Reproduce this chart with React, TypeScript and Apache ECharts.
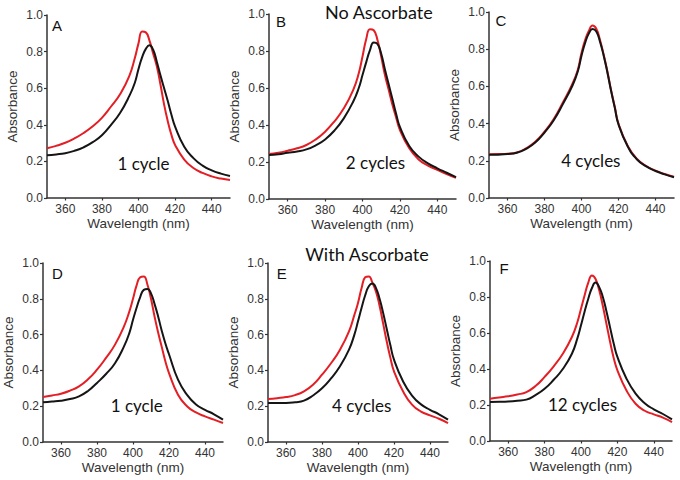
import React, { useEffect, useRef } from "react";
import * as echarts from "echarts";

const wavelengths = [350, 355, 360, 365, 370, 375, 380, 385, 390, 395, 398, 400, 402, 404, 406, 408, 410, 412, 414, 416, 418, 420, 425, 430, 435, 440, 445, 450];

const aRed = [0.272, 0.285, 0.302, 0.326, 0.355, 0.392, 0.438, 0.5, 0.568, 0.668, 0.765, 0.845, 0.91, 0.905, 0.86, 0.79, 0.72, 0.62, 0.51, 0.42, 0.345, 0.29, 0.21, 0.164, 0.137, 0.118, 0.106, 0.098];
const aBlack = [0.233, 0.238, 0.245, 0.258, 0.277, 0.305, 0.343, 0.4, 0.466, 0.558, 0.63, 0.705, 0.77, 0.815, 0.835, 0.81, 0.745, 0.67, 0.6, 0.53, 0.455, 0.39, 0.28, 0.218, 0.177, 0.151, 0.133, 0.12];
const bRed = [0.243, 0.25, 0.261, 0.274, 0.292, 0.322, 0.364, 0.42, 0.49, 0.589, 0.68, 0.77, 0.865, 0.918, 0.912, 0.86, 0.77, 0.67, 0.59, 0.51, 0.44, 0.373, 0.274, 0.214, 0.18, 0.157, 0.135, 0.115];
const bBlack = [0.238, 0.242, 0.25, 0.257, 0.268, 0.29, 0.322, 0.37, 0.436, 0.526, 0.6, 0.67, 0.74, 0.805, 0.846, 0.838, 0.785, 0.7, 0.62, 0.54, 0.46, 0.39, 0.286, 0.229, 0.193, 0.166, 0.142, 0.118];
const cRed = [0.235, 0.236, 0.238, 0.245, 0.267, 0.302, 0.357, 0.425, 0.515, 0.612, 0.69, 0.78, 0.85, 0.9, 0.927, 0.91, 0.85, 0.77, 0.68, 0.58, 0.49, 0.4, 0.28, 0.21, 0.172, 0.147, 0.129, 0.114];
const cBlack = [0.232, 0.233, 0.236, 0.243, 0.264, 0.298, 0.352, 0.418, 0.506, 0.602, 0.68, 0.765, 0.835, 0.885, 0.908, 0.895, 0.84, 0.765, 0.675, 0.575, 0.485, 0.395, 0.277, 0.207, 0.17, 0.145, 0.127, 0.112];
const dRed = [0.251, 0.26, 0.27, 0.287, 0.311, 0.35, 0.404, 0.47, 0.544, 0.646, 0.73, 0.8, 0.875, 0.92, 0.925, 0.88, 0.8, 0.7, 0.61, 0.53, 0.45, 0.385, 0.264, 0.2, 0.165, 0.143, 0.125, 0.106];
const dBlack = [0.222, 0.226, 0.231, 0.24, 0.255, 0.285, 0.33, 0.38, 0.44, 0.534, 0.61, 0.683, 0.75, 0.81, 0.85, 0.855, 0.83, 0.77, 0.7, 0.62, 0.55, 0.49, 0.348, 0.264, 0.21, 0.18, 0.155, 0.125];
const eRed = [0.24, 0.245, 0.251, 0.262, 0.283, 0.32, 0.376, 0.44, 0.516, 0.618, 0.71, 0.777, 0.86, 0.92, 0.925, 0.89, 0.84, 0.76, 0.66, 0.56, 0.47, 0.395, 0.283, 0.209, 0.17, 0.149, 0.13, 0.106];
const eBlack = [0.218, 0.218, 0.218, 0.222, 0.231, 0.26, 0.3, 0.355, 0.423, 0.516, 0.6, 0.674, 0.75, 0.82, 0.87, 0.885, 0.86, 0.8, 0.72, 0.63, 0.54, 0.46, 0.339, 0.259, 0.21, 0.18, 0.155, 0.125];
const fRed = [0.235, 0.242, 0.248, 0.258, 0.272, 0.305, 0.356, 0.415, 0.485, 0.578, 0.66, 0.735, 0.81, 0.88, 0.92, 0.9, 0.837, 0.75, 0.65, 0.55, 0.46, 0.393, 0.28, 0.207, 0.168, 0.148, 0.13, 0.105];
const fBlack = [0.217, 0.218, 0.22, 0.224, 0.23, 0.255, 0.29, 0.34, 0.4, 0.485, 0.57, 0.643, 0.72, 0.79, 0.85, 0.88, 0.855, 0.8, 0.72, 0.63, 0.54, 0.467, 0.346, 0.263, 0.21, 0.176, 0.15, 0.12];

const panelLetters = ["A", "B", "C", "D", "E", "F"];
const cycleLabels = ["1 cycle", "2 cycles", "4 cycles", "1 cycle", "4 cycles", "12 cycles"];
const groupTitles = ["No Ascorbate", "With Ascorbate"];
const xTickValues = [360, 380, 400, 420, 440];

const redSeries = [aRed, bRed, cRed, dRed, eRed, fRed];
const blackSeries = [aBlack, bBlack, cBlack, dBlack, eBlack, fBlack];

// layout (pixels)
const grids = [
  { left: 47, top: 15, width: 183, height: 183 },
  { left: 269, top: 14, width: 187, height: 185 },
  { left: 489, top: 12, width: 185, height: 186 },
  { left: 43, top: 263, width: 180, height: 179 },
  { left: 268, top: 263, width: 180, height: 179 },
  { left: 490, top: 261, width: 182, height: 180 },
];
const letterPos = [[57, 25], [281, 21], [501, 20.5], [57.5, 273], [281.7, 273], [504, 268]];
const cyclePos = [[143.5, 163.5], [375.5, 162.5], [590.8, 160.8], [136.7, 405.8], [361.7, 405.8], [582.5, 404.5]];
const titlePos = [[378.8, 11.5], [367, 254]];

const RED = "#e31e24";
const BLACK = "#151515";
const AXIS = "#333333";
const SANS = "'Liberation Sans', Arial, sans-serif";
const HUMAN = "Lato, 'Open Sans', sans-serif";

export default function App() {
  const ref = useRef<HTMLDivElement>(null);
  useEffect(() => {
    if (!ref.current) return;
    const chart = echarts.init(ref.current, null, { renderer: "svg" });
    const xAxis = grids.map((_, i) => ({
      type: "value",
      gridIndex: i,
      min: 350,
      max: 450,
      interval: 10,
      name: "Wavelength (nm)",
      nameLocation: "middle",
      nameGap: 18,
      nameTextStyle: { fontFamily: SANS, fontSize: 13.5, color: AXIS },
      axisLine: { show: true, lineStyle: { color: AXIS, width: 1.5 } },
      axisTick: { show: true, length: 2.5, customValues: xTickValues, lineStyle: { color: AXIS, width: 1.2 } },
      splitLine: { show: false },
      axisLabel: {
        fontFamily: SANS,
        fontSize: 12,
        color: AXIS,
        margin: 5,
        customValues: xTickValues,
        formatter: (v: number) => String(v),
      },
    }));
    const yAxis = grids.map((_, i) => ({
      type: "value",
      gridIndex: i,
      min: 0,
      max: 1,
      interval: 0.2,
      name: "Absorbance",
      nameLocation: "middle",
      nameGap: 28,
      nameTextStyle: { fontFamily: SANS, fontSize: 13.5, color: AXIS },
      axisLine: { show: true, lineStyle: { color: AXIS, width: 1.5 } },
      axisTick: { show: true, length: 3, lineStyle: { color: AXIS, width: 1.2 } },
      splitLine: { show: false },
      axisLabel: {
        fontFamily: SANS,
        fontSize: 12,
        color: AXIS,
        margin: 4,
        formatter: (v: number) => v.toFixed(1),
      },
    }));
    const series: any[] = [];
    grids.forEach((_, i) => {
      series.push({
        type: "line",
        xAxisIndex: i,
        yAxisIndex: i,
        data: wavelengths.map((w, k) => [w, redSeries[i][k]]),
        showSymbol: false,
        smooth: 0.5,
        lineStyle: { color: RED, width: 2 },
      });
      series.push({
        type: "line",
        xAxisIndex: i,
        yAxisIndex: i,
        data: wavelengths.map((w, k) => [w, blackSeries[i][k]]),
        showSymbol: false,
        smooth: 0.5,
        lineStyle: { color: BLACK, width: 2 },
      });
    });
    const graphic: any[] = [];
    panelLetters.forEach((t, i) => {
      graphic.push({
        type: "text",
        x: letterPos[i][0],
        y: letterPos[i][1],
        style: { text: t, fontFamily: SANS, fontSize: 15, fill: "#111", align: "center", verticalAlign: "middle" },
      });
      graphic.push({
        type: "text",
        x: cyclePos[i][0],
        y: cyclePos[i][1],
        style: { text: cycleLabels[i], fontFamily: HUMAN, fontSize: 17, fill: "#111", align: "center", verticalAlign: "middle" },
      });
    });
    groupTitles.forEach((t, i) => {
      graphic.push({
        type: "text",
        x: titlePos[i][0],
        y: titlePos[i][1],
        style: { text: t, fontFamily: HUMAN, fontSize: 18, fill: "#111", align: "center", verticalAlign: "middle" },
      });
    });
    chart.setOption({
      animation: false,
      backgroundColor: "#ffffff",
      grid: grids.map((g) => ({ ...g, containLabel: false })),
      xAxis,
      yAxis,
      series,
      graphic,
    });
    return () => chart.dispose();
  }, []);
  return <div ref={ref} style={{ position: "absolute", left: 0, top: 0, width: 680, height: 480 }} />;
}
